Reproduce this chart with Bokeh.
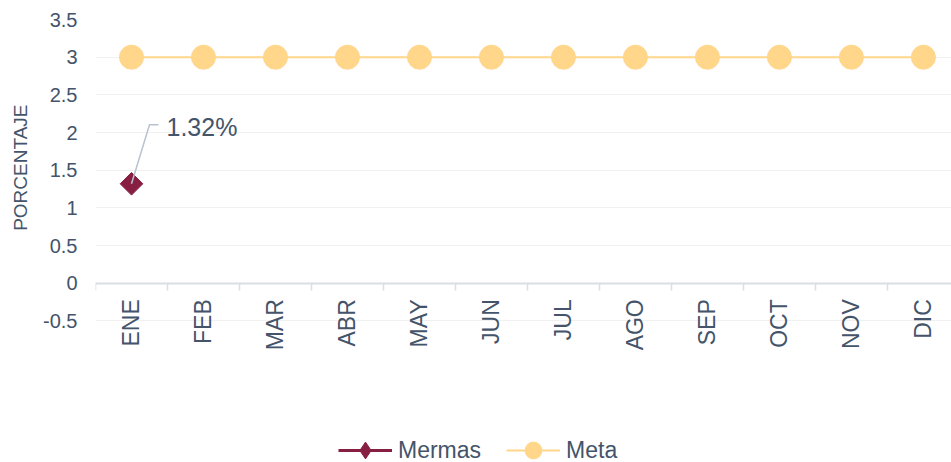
import numpy as np
from bokeh.plotting import figure
from bokeh.models import (Range1d, FixedTicker, CustomJSTickFormatter, Legend,
                          LegendItem, Title)
from bokeh.core.properties import value
from bokeh.embed import file_html
from bokeh.resources import INLINE

# ---- data ----
months = ["ENE", "FEB", "MAR", "ABR", "MAY", "JUN", "JUL", "AGO", "SEP", "OCT", "NOV", "DIC"]
mermas = [1.32]
meta = [3, 3, 3, 3, 3, 3, 3, 3, 3, 3, 3, 3]
y_ticks = [-0.5, 0, 0.5, 1, 1.5, 2, 2.5, 3, 3.5]

FONT = "Liberation Sans"
TXT = "#44546a"
AXIS = "#d9dee6"
GRID = "#f0f0f0"
MER = "#861f41"
META = "#ffd68a"

p = figure(width=951, height=462, output_backend="svg", toolbar_location=None,
           x_range=Range1d(-0.5, 11.39), y_range=Range1d(-2.379, 3.5),
           min_border_left=95, min_border_right=0, min_border_top=19,
           min_border_bottom=0)
p.outline_line_color = None

xi = list(range(len(months)))
xm = list(range(len(mermas)))

# Meta series
tl = p.line(xi, meta, line_color=META, line_width=2)
ts = p.scatter(xi, meta, size=24, fill_color=META, line_color=META)

# Mermas series
ml = p.line(xm, mermas, line_color=MER, line_width=3)
ms = p.scatter(xm, mermas, marker="square", angle=np.pi / 4, size=16,
               fill_color=MER, line_color=MER)
# legend-only diamond (no visible data)
md = p.scatter([np.nan], [np.nan], marker="diamond", size=16,
               fill_color=MER, line_color=MER)

# data label with leader line
v = mermas[0]
p.line([xm[0], xm[0] + 0.25, xm[0] + 0.375], [v, v + 0.784, v + 0.784],
       line_color="#b8c2d0", line_width=1.5)
p.text(x=[xm[0] + 0.375], y=[v + 0.784], text=[f"{v:.2f}%"], x_offset=8,
       y_offset=2, text_baseline="middle", text_align="left",
       text_font=value(FONT), text_font_size="25px", text_color=TXT)

# x axis crossing at y=0
xa = p.xaxis[0]
xa.fixed_location = 0
xa.ticker = FixedTicker(ticks=xi, minor_ticks=[i - 0.5 for i in range(len(months) + 1)])
xa.major_label_overrides = {i: m for i, m in enumerate(months)}
xa.major_label_orientation = np.pi / 2
xa.major_tick_line_color = None
xa.major_tick_out = 0
xa.major_tick_in = 0
xa.minor_tick_out = 7
xa.minor_tick_in = 0
xa.minor_tick_line_color = AXIS
xa.minor_tick_line_width = 1.5
xa.axis_line_color = AXIS
xa.axis_line_width = 2
xa.major_label_standoff = 9
xa.major_label_text_font = FONT
xa.major_label_text_font_size = "23px"
xa.major_label_text_color = TXT
p.xgrid.grid_line_color = None

# y axis
ya = p.yaxis[0]
ya.ticker = FixedTicker(ticks=y_ticks)
ya.formatter = CustomJSTickFormatter(code="return tick.toString()")
ya.axis_line_color = None
ya.major_tick_line_color = None
ya.minor_tick_line_color = None
ya.major_tick_out = 0
ya.major_label_standoff = 18
ya.major_label_text_font = FONT
ya.major_label_text_font_size = "20px"
ya.major_label_text_color = TXT
p.ygrid.grid_line_color = GRID
p.ygrid.grid_line_width = 1

# y axis title, placed over the -0.5..3.5 part
ytitle = Title(text="PORCENTAJE", align="right", offset=85, standoff=15,
               vertical_align="top", text_font=FONT, text_font_size="19px",
               text_font_style="normal", text_color=TXT)
p.add_layout(ytitle, "left")

legend = Legend(items=[LegendItem(label="Mermas", renderers=[ml, md]),
                       LegendItem(label="Meta", renderers=[tl, ts])],
                orientation="horizontal", location=(243, -9),
                glyph_width=54, glyph_height=42, label_height=42,
                padding=0, margin=0, spacing=25, label_standoff=6,
                border_line_color=None, background_fill_alpha=0,
                label_text_font=FONT, label_text_font_size="23px",
                label_text_color=TXT)
p.add_layout(legend)

open("out.html", "w").write(file_html(p, INLINE))
